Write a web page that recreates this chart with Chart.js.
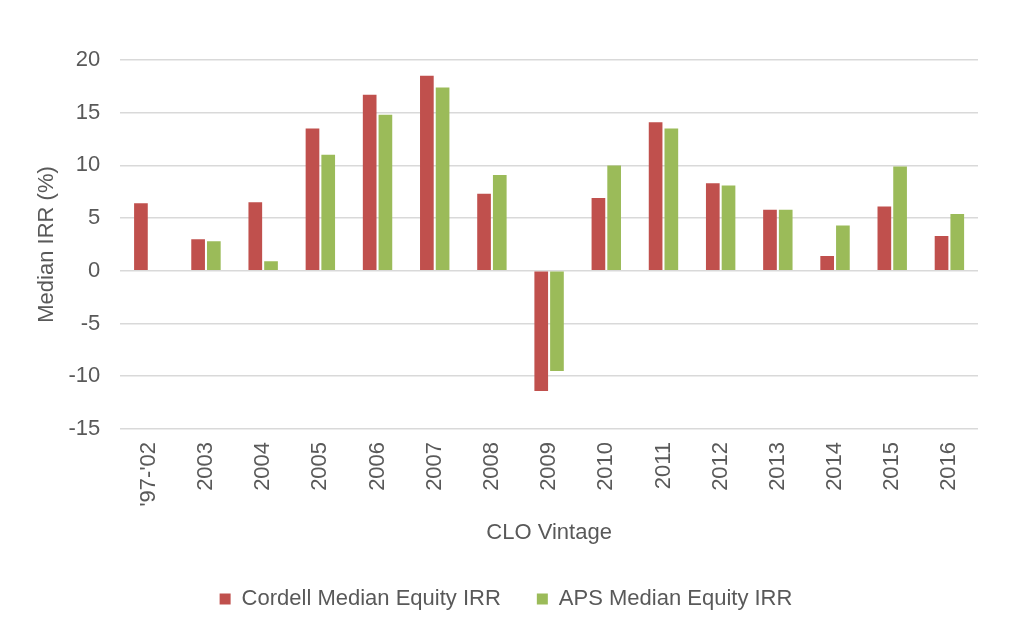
<!DOCTYPE html>
<html>
<head>
<meta charset="utf-8">
<script src="https://cdn.jsdelivr.net/npm/chart.js@4/dist/chart.umd.min.js"></script>
<style>
  html, body { margin: 0; padding: 0; background: #fff; }
  #wrap { width: 1024px; height: 632px; }
</style>
</head>
<body>
<div id="wrap"><canvas id="myChart"></canvas></div>
<script>
const vintages = ["'97-'02", '2003', '2004', '2005', '2006', '2007', '2008', '2009', '2010', '2011', '2012', '2013', '2014', '2015', '2016']
const cordellIRR = [6.4, 3.0, 6.5, 13.5, 16.7, 18.5, 7.3, -11.4, 6.9, 14.1, 8.3, 5.8, 1.4, 6.1, 3.3]
const apsIRR = [null, 2.8, 0.9, 11.0, 14.8, 17.4, 9.1, -9.5, 10.0, 13.5, 8.1, 5.8, 4.3, 9.9, 5.4]

const ctx = document.getElementById('myChart')

Chart.defaults.color = '#595959'
Chart.defaults.font.family = '"Liberation Sans", Arial, sans-serif'
Chart.defaults.font.size = 22

new Chart(ctx, {
  type: 'bar',
  data: {
    labels: vintages,
    datasets: [
      {
        label: 'Cordell Median Equity IRR',
        data: cordellIRR,
        backgroundColor: '#C0504D',
        categoryPercentage: 0.55,
        barPercentage: 0.87
      },
      {
        label: 'APS Median Equity IRR',
        data: apsIRR,
        backgroundColor: '#9BBB59',
        categoryPercentage: 0.55,
        barPercentage: 0.87
      }
    ]
  },
  options: {
    responsive: true,
    maintainAspectRatio: false,
    animation: false,
    layout: { padding: { top: 60, right: 46, bottom: 12, left: 34 } },
    plugins: {
      tooltip: { enabled: false },
      legend: {
        position: 'bottom',
        labels: { boxWidth: 11, boxHeight: 11, padding: 36 }
      }
    },
    scales: {
      x: {
        grid: { display: false, drawTicks: false },
        border: { display: false },
        ticks: { minRotation: 90, maxRotation: 90, padding: 13 },
        title: { display: true, text: 'CLO Vintage', padding: { top: 0, bottom: 6 } }
      },
      y: {
        min: -15,
        max: 20,
        grid: { color: '#D9D9D9', lineWidth: 1.5, drawTicks: false },
        border: { display: false },
        ticks: { stepSize: 5, padding: 20 },
        title: { display: true, text: 'Median IRR (%)', padding: { top: 0, bottom: -12 } }
      }
    }
  }
})
</script>
</body>
</html>
